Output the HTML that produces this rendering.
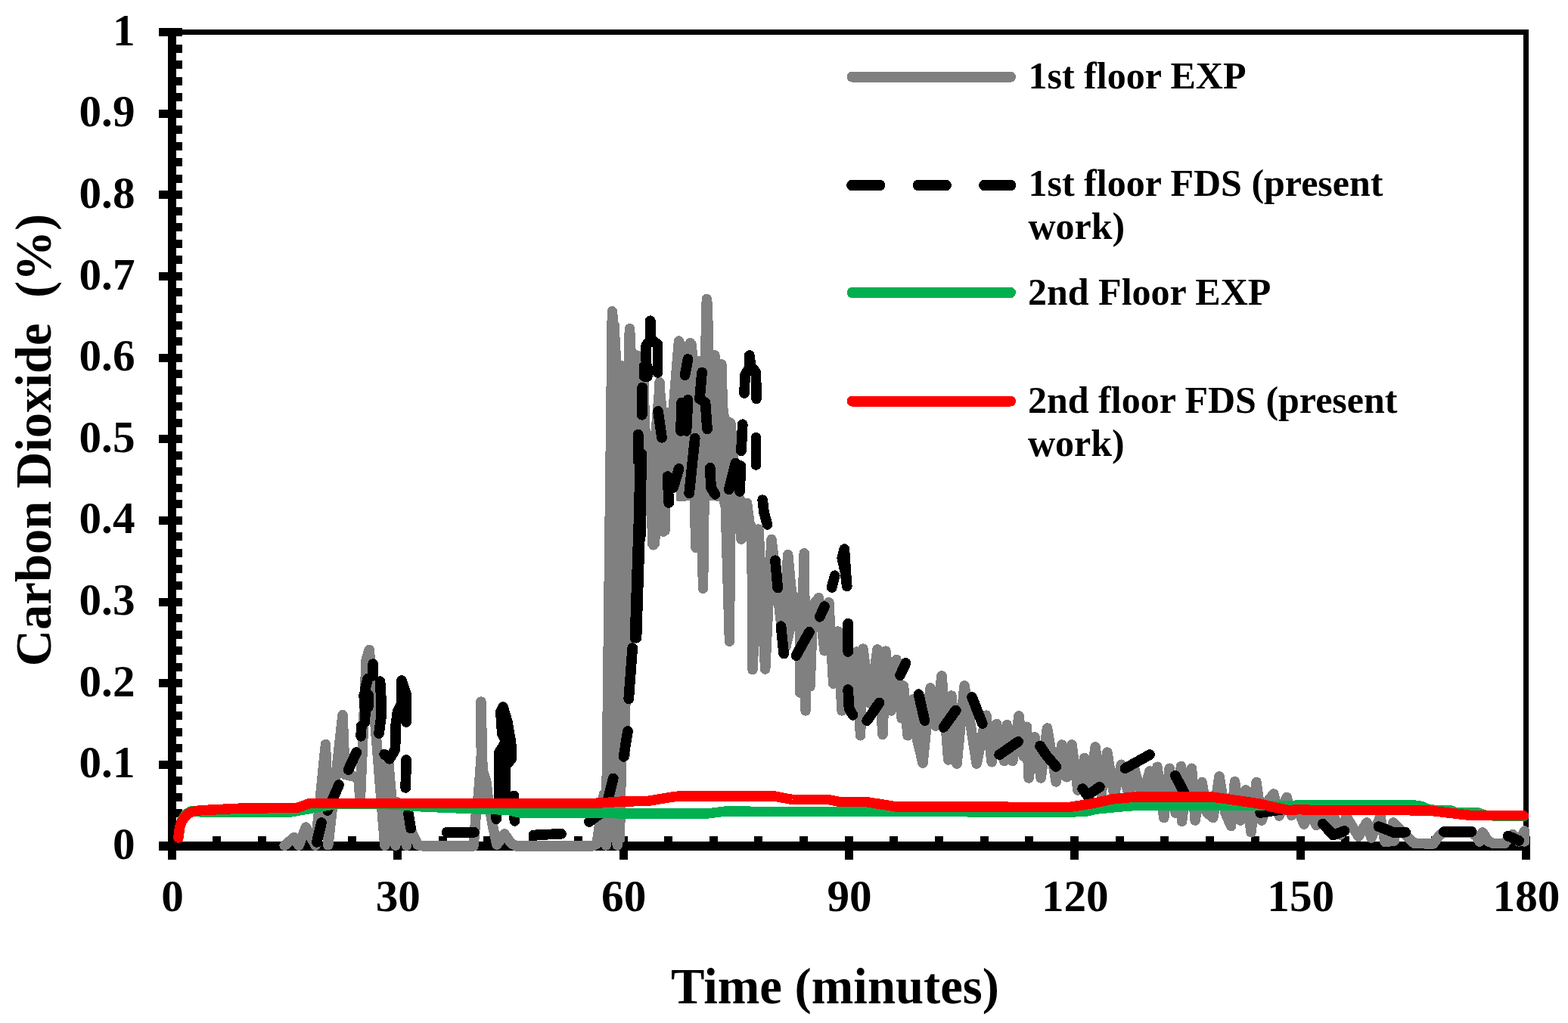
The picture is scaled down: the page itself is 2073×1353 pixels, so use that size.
<!DOCTYPE html>
<html lang="en">
<head>
<meta charset="utf-8">
<title>Carbon Dioxide vs Time</title>
<style>
html,body{margin:0;padding:0;background:#fff;}
body{width:2073px;height:1353px;overflow:hidden;}
svg{display:block;}
text{font-family:"Liberation Serif","DejaVu Serif",serif;font-weight:bold;fill:#000;}
.tick{font-size:59.2px;}
.title{font-size:66.7px;}
.leg{font-size:50px;}
.ax{fill:#000;shape-rendering:crispEdges;}
.ln{fill:none;stroke-linejoin:round;stroke-linecap:round;shape-rendering:crispEdges;}
</style>
</head>
<body>
<svg width="2073" height="1353" viewBox="0 0 2073 1353" role="img" aria-label="Carbon dioxide concentration versus time">
<rect x="0" y="0" width="2073" height="1353" fill="#fff"/>
<g class="ax">
<rect x="222" y="39" width="1799" height="7"/>
<rect x="2014" y="39" width="7" height="1086"/>
<rect x="222" y="37" width="11" height="1100"/>
<rect x="210" y="1113" width="1811" height="12"/>
<rect x="210" y="1114" width="31" height="11"/>
<rect x="232" y="1092" width="9" height="11"/>
<rect x="232" y="1070" width="9" height="11"/>
<rect x="232" y="1049" width="9" height="11"/>
<rect x="232" y="1027" width="9" height="11"/>
<rect x="210" y="1006" width="31" height="11"/>
<rect x="232" y="984" width="9" height="11"/>
<rect x="232" y="963" width="9" height="11"/>
<rect x="232" y="941" width="9" height="11"/>
<rect x="232" y="920" width="9" height="11"/>
<rect x="210" y="898" width="31" height="11"/>
<rect x="232" y="877" width="9" height="11"/>
<rect x="232" y="855" width="9" height="11"/>
<rect x="232" y="834" width="9" height="11"/>
<rect x="232" y="812" width="9" height="11"/>
<rect x="210" y="791" width="31" height="11"/>
<rect x="232" y="769" width="9" height="11"/>
<rect x="232" y="747" width="9" height="11"/>
<rect x="232" y="726" width="9" height="11"/>
<rect x="232" y="704" width="9" height="11"/>
<rect x="210" y="683" width="31" height="11"/>
<rect x="232" y="661" width="9" height="11"/>
<rect x="232" y="640" width="9" height="11"/>
<rect x="232" y="618" width="9" height="11"/>
<rect x="232" y="597" width="9" height="11"/>
<rect x="210" y="575" width="31" height="11"/>
<rect x="232" y="554" width="9" height="11"/>
<rect x="232" y="532" width="9" height="11"/>
<rect x="232" y="511" width="9" height="11"/>
<rect x="232" y="489" width="9" height="11"/>
<rect x="210" y="468" width="31" height="11"/>
<rect x="232" y="446" width="9" height="11"/>
<rect x="232" y="425" width="9" height="11"/>
<rect x="232" y="403" width="9" height="11"/>
<rect x="232" y="381" width="9" height="11"/>
<rect x="210" y="360" width="31" height="11"/>
<rect x="232" y="338" width="9" height="11"/>
<rect x="232" y="317" width="9" height="11"/>
<rect x="232" y="295" width="9" height="11"/>
<rect x="232" y="274" width="9" height="11"/>
<rect x="210" y="252" width="31" height="11"/>
<rect x="232" y="231" width="9" height="11"/>
<rect x="232" y="209" width="9" height="11"/>
<rect x="232" y="188" width="9" height="11"/>
<rect x="232" y="166" width="9" height="11"/>
<rect x="210" y="145" width="31" height="11"/>
<rect x="232" y="123" width="9" height="11"/>
<rect x="232" y="102" width="9" height="11"/>
<rect x="232" y="80" width="9" height="11"/>
<rect x="232" y="59" width="9" height="11"/>
<rect x="210" y="37" width="31" height="11"/>
<rect x="222" y="1106" width="11" height="31"/>
<rect x="281" y="1106" width="11" height="8"/>
<rect x="341" y="1106" width="11" height="8"/>
<rect x="401" y="1106" width="11" height="8"/>
<rect x="460" y="1106" width="11" height="8"/>
<rect x="520" y="1106" width="11" height="31"/>
<rect x="580" y="1106" width="11" height="8"/>
<rect x="639" y="1106" width="11" height="8"/>
<rect x="699" y="1106" width="11" height="8"/>
<rect x="759" y="1106" width="11" height="8"/>
<rect x="819" y="1106" width="11" height="31"/>
<rect x="878" y="1106" width="11" height="8"/>
<rect x="938" y="1106" width="11" height="8"/>
<rect x="997" y="1106" width="11" height="8"/>
<rect x="1057" y="1106" width="11" height="8"/>
<rect x="1117" y="1106" width="11" height="31"/>
<rect x="1176" y="1106" width="11" height="8"/>
<rect x="1236" y="1106" width="11" height="8"/>
<rect x="1296" y="1106" width="11" height="8"/>
<rect x="1355" y="1106" width="11" height="8"/>
<rect x="1415" y="1106" width="11" height="31"/>
<rect x="1475" y="1106" width="11" height="8"/>
<rect x="1534" y="1106" width="11" height="8"/>
<rect x="1594" y="1106" width="11" height="8"/>
<rect x="1654" y="1106" width="11" height="8"/>
<rect x="1714" y="1106" width="11" height="31"/>
<rect x="1773" y="1106" width="11" height="8"/>
<rect x="1833" y="1106" width="11" height="8"/>
<rect x="1892" y="1106" width="11" height="8"/>
<rect x="1952" y="1106" width="11" height="8"/>
<rect x="2012" y="1106" width="11" height="31"/>
</g>
<g class="ln" stroke-width="13.5">
<polygon fill="#808080" stroke="#808080" stroke-width="3" points="803.5,708 803.5,428 817,428 820,482 826,482 827,440 838,440 839.5,470 846,470 846,505 856,505 858.5,582 861,582 867,510 877,510 880,540 890,540 892.5,452 903.8,452 905.5,457 907.5,452 918.8,452 921,472 927.5,472 928.8,400 940.5,400 942,467 947.5,467 949,477 958.8,480 958.8,522 962.5,552 968.8,555 968.8,607 975,640 987,668 997.5,694 1000,715 990,715 982,714 970,700 955,675 952,662 940,660 914,660 907,661 895,661 895,640 885,640 884,705 872,705 870,722 858,722 856,675 852.5,637 842.5,750 836,850 828,942 826,1042 824.5,1112 800,1112 800,708"/>
<polyline stroke="#808080" points="376.2,1118.2 388.8,1107.5 395,1118.2 404.5,1094 417,1118.2 430.5,984.5 433.8,1117.8 453,945.5 456.2,1024.5 473.8,1028.2 476.2,1060.8 484.2,872.5 488.2,859.5 508.8,1118.2 513.8,1009.5 523,1118.2 524.5,1060.8 537.5,1118.2 540.5,1092 552.5,1117.5 560,1119 612,1119 626,1119 628,1095 629.2,1077.5 632.4,1052.5 634.2,1028.8 636.3,1000 636,928 637.8,1010 638.2,1018.8 643.2,1035 645.1,1055 651.4,1092.5 657,1117 666.9,1103 675.5,1115 682.5,1119 782.5,1119 789,1116 798.5,1050 801.2,1118 808.4,500 809.4,411.8 812,440 813,700 814.5,520 816.2,1118 822.5,484 826,1000 832.5,434.8 836.5,840 842,470 845,700 850,520 853,660 856,600 863.8,720.8 872,505.5 877,703.2 897.5,451 905,600 912.5,453.8 920,724.5 925,500 929.5,778.2 934.5,395.5 940,650 945,469.8 950,650 953.8,481.8 964.5,848.2 966,560 971,625 980,713.2 987.5,665.5 994,715 995,885.8 1003,700 1011.7,885 1020,713.3 1035,845 1041.7,733.7 1049,811 1039,855 1052,790 1058,800 1057.5,916 1063.3,731.7 1065,940 1068,800 1071,908 1075,800 1082.5,790.8 1090,860.8 1095.8,796.7 1101.7,904.2 1108,835 1113,940 1120,850 1127,930 1133,862 1137.5,972.8 1141,858 1150,930 1160,858.8 1167,971.5 1171,861 1178,940 1185,872.5 1192,950 1194.5,907 1200,972.8 1207,925 1213,980 1220,1009 1230,910 1237,960 1245,893.8 1253.8,1005 1258,920 1265,1010.2 1275,907 1291.2,1010.2 1303.8,946.2 1311.2,1007.8 1317.5,957.5 1327.5,1006.5 1331.2,958.8 1338.8,1006.5 1347,946.8 1353,1000 1357.5,961.2 1360,1029 1368,975 1376.2,1029 1384.5,963 1396.2,1034 1403.8,985 1410,1027.8 1417,985 1425,1045 1433.8,1002.5 1441,1050 1448,988 1456,1050 1463.8,995 1473,1052 1482.5,1011.2 1492,1050 1500,1018 1510,1055 1520,1020 1526,1060 1530,1014.2 1538.8,1081.5 1546.2,1016.2 1554,1075 1561.5,1013.5 1562.5,1086.5 1570,1030 1575.5,1016.2 1580,1085 1589,1034.5 1596,1075 1603.8,1081.5 1612,1027 1620,1075 1627.5,1092.5 1632.5,1033.8 1640,1085 1647,1045 1654,1100.8 1661,1034.5 1668,1085 1676,1060 1683.8,1050 1691.2,1079 1701.2,1054.5 1707.5,1078.5 1714,1065 1724,1090.2 1732,1070 1740,1091.5 1748,1075 1756,1098 1763,1078 1772,1104 1780,1080 1796,1106.5 1806.9,1087.8 1813,1108 1825,1080 1831,1113.5 1843.5,1112 1841.9,1087.8 1870,1115.5 1895,1116 1902,1106 1908,1101 1945,1101 1952,1106 1956,1113 1960,1100.8 1968,1113 1975,1115.7 1989,1115.7 1995,1108 2000,1103.6 2008,1113 2015.6,1099 2015.6,1113"/>
<g stroke="#000" stroke-width="13.75">
<polyline points="418.8,1113.8 425,1088.1"/>
<polyline points="433.1,1071.9 448.1,1038.1"/>
<polyline points="460.6,1018.1 471.2,995"/>
<polyline points="477.2,973.8 477.8,960"/>
<polyline points="482.5,955 482.8,940"/>
<polyline points="481.2,918.8 481.9,935"/>
<polyline points="486.9,918.8 486.9,935"/>
<polyline points="486.2,897.5 482.5,912.5"/>
<polyline points="493.1,878.1 493.1,893.8"/>
<polyline points="502.5,901.2 503.8,922.5 504.4,945 501,970"/>
<polyline points="531,900 531,930 525.6,941.2 523.1,960 522.5,991.2 515,1003.8 508.1,997.5"/>
<polyline points="531,900 536.9,917.5 537.1,955"/>
<polyline points="537.1,1005 536.2,1041.9"/>
<polyline points="540,1076.2 543.1,1095.6"/>
<polyline points="590.5,1100.8 627,1100.8"/>
<polyline points="705.5,1104.5 742,1102.8"/>
<polyline points="660,1055 659.4,1025 660,995 668.8,981.2 663.8,970 661.9,941.2 665,935 670.6,953.8 675.6,982.5 676,1003.8 668.8,1012.5 668.1,1025 667.5,1055"/>
<polyline points="679.4,1052.5 679.4,1055"/>
<polyline points="667.5,987.5 667.8,1012.5"/>
<polyline points="656.2,1083.2 656.2,1077"/>
<polyline points="680.5,1085.8 680,1079.5"/>
<polyline points="778.8,1087 792.5,1077"/>
<polyline points="810.8,1029.5 803.8,1057"/>
<polyline points="830,967 824.5,1000.8"/>
<polyline points="836.2,857 831.2,924.5"/>
<polyline points="839.5,843.2 841.2,792"/>
<polyline points="1032.5,828.2 1036.2,864.5"/>
<polyline points="1052.5,867 1070,835.8"/>
<polyline points="1083.8,815.8 1090,802"/>
<polyline points="1121.2,824.5 1121.2,862"/>
<polyline points="1121.2,912 1122.5,937 1127.5,945.8"/>
<polyline points="1146.2,953.2 1162.5,929.5"/>
<polyline points="1190,893.2 1197.5,877"/>
<polyline points="1214.5,918.2 1222.5,953.2"/>
<polyline points="1247.5,962 1262.5,940.8"/>
<polyline points="839.5,843.8 842.5,750 845,675 846.2,600"/>
<polyline points="841.5,843.8 844.5,750 847,675 848.2,600"/>
<polyline points="1025,741.2 1028.2,777.5"/>
<polyline points="859.8,424.2 859.8,447.5"/>
<polyline points="854.3,456.8 854.3,477.5"/>
<polyline points="851.9,483.8 851.9,498"/>
<polyline points="855.8,485 855.8,498"/>
<polyline points="857.5,452.5 854.3,456.8"/>
<polyline points="869.5,455.5 869.5,493"/>
<polyline points="862.5,450 869.5,455.5"/>
<polyline points="849.2,512.5 848.8,548.8"/>
<polyline points="843.8,574.5 843.8,610"/>
<polyline points="847.5,600 847,708.2"/>
<polyline points="870,543.8 875,578.8"/>
<polyline points="909.5,475 905.5,496.2"/>
<polyline points="928,492.5 925,527.5 932.5,532.5 935,567.5"/>
<polyline points="909.5,528.8 907.5,570"/>
<polyline points="901.2,532.5 900,570"/>
<polyline points="918.8,579.5 915,615 911.2,652.5"/>
<polyline points="882.5,630 884.2,665"/>
<polyline points="897.5,620 890,645"/>
<polyline points="938.8,618.8 940,645 945.5,653.8"/>
<polyline points="972.5,612.5 963.8,647.5"/>
<polyline points="979.5,616.2 978,650"/>
<polyline points="981.8,561.2 980,596.2"/>
<polyline points="999.5,578.8 999.5,615"/>
<polyline points="990.9,470 990.6,486.2 985,496.2 984.1,520"/>
<polyline points="990.9,470 992.5,483.8 999.4,492.5 1000,527.5"/>
<polyline points="1008.2,661.2 1010,677.5 1014.5,693.8"/>
<polyline points="1116.3,726.2 1113.3,738.3 1117.5,756.7 1119.7,775.3"/>
<polyline points="1116.3,726.2 1118.3,756.7 1119.7,775.3"/>
<polyline points="1103.7,761.3 1099.7,777"/>
<polyline points="1247.5,962 1263.8,939.5"/>
<polyline points="1285,922 1298.8,957"/>
<polyline points="1321.2,998.2 1346.2,980.8"/>
<polyline points="1375,986.5 1383.8,999.5 1396.2,1014"/>
<polyline points="1431.2,1043.2 1437.5,1052 1453.8,1040.8"/>
<polyline points="1487.5,1016.2 1520,998.2"/>
<polyline points="1553.8,1025.8 1567.5,1052"/>
<polyline points="1666.2,1075 1702.5,1069.5"/>
<polyline points="1748.8,1089.5 1762.5,1104.5 1777.5,1099"/>
<polyline points="1822.5,1093.1 1843.1,1101.2 1858.1,1100.6"/>
<polyline points="1908.8,1100 1945.6,1100"/>
<polyline points="1993.8,1105.6 2008.1,1111.9"/>
</g>
<polyline stroke="#00B050" points="236,1107 238,1093 240.5,1085 244,1079.5 248,1075.5 252.5,1073 258,1072.5 266,1074 280,1074.6 380,1074.7 445,1063.2 510,1063.5 560,1067 645,1070.5 670,1071 690,1075.5 935,1076 957.5,1073.2 1415,1074 1435,1073.3 1450,1070 1475,1067.5 1500,1065.5 1555,1065.5 1870,1065 1880,1066.5 1890,1071.1 1917.5,1071.8 1926,1074.9 1954,1074.9 1965,1078.6 2014.2,1079.6"/>
<polyline stroke="#FF0000" points="235.8,1108 237.6,1093.5 240.5,1086 244.3,1080.5 248.5,1076.5 253.2,1074 259,1072.5 265,1071.8 320,1069 393,1068.5 410,1062.3 785,1062.5 820,1060.2 857,1059.3 892,1053.6 900,1052.8 1022.5,1052.8 1047.5,1057.5 1095,1057.5 1110,1060.5 1145,1060.5 1185,1067 1415,1067.4 1445,1062.5 1470,1057 1500,1054 1602.5,1054 1633,1058.3 1667,1063.3 1683,1067.5 1705,1071.7 1717,1070.5 1735,1071.5 1887,1071.8 1945,1078.5 2014.2,1078.6"/>
</g>
<g class="tick" text-anchor="end">
<text x="178.5" y="1136.0">0</text>
<text x="178.5" y="1028.3">0.1</text>
<text x="178.5" y="920.7">0.2</text>
<text x="178.5" y="813.0">0.3</text>
<text x="178.5" y="705.4">0.4</text>
<text x="178.5" y="597.8">0.5</text>
<text x="178.5" y="490.1">0.6</text>
<text x="178.5" y="382.5">0.7</text>
<text x="178.5" y="274.8">0.8</text>
<text x="178.5" y="167.1">0.9</text>
<text x="178.5" y="59.5">1</text>
</g>
<g class="tick" text-anchor="middle">
<text x="228.0" y="1205.2">0</text>
<text x="526.3" y="1205.2">30</text>
<text x="824.7" y="1205.2">60</text>
<text x="1123.0" y="1205.2">90</text>
<text x="1421.3" y="1205.2">120</text>
<text x="1719.7" y="1205.2">150</text>
<text x="2018.0" y="1205.2">180</text>
</g>
<text class="title" text-anchor="middle" x="1104" y="1326.5">Time (minutes)</text>
<text class="title" text-anchor="middle" xml:space="preserve" transform="translate(67 582) rotate(-90)">Carbon Dioxide  (%)</text>
<g class="ln" stroke-width="14">
<line x1="1126.5" y1="101.7" x2="1336" y2="101.7" stroke="#808080"/>
<line x1="1126.5" y1="245" x2="1336" y2="245" stroke="#000" stroke-width="14.8" stroke-dasharray="36.5 51"/>
<line x1="1126.5" y1="387" x2="1336" y2="387" stroke="#00B050"/>
<line x1="1126.5" y1="530.6" x2="1336" y2="530.6" stroke="#FF0000"/>
</g>
<g class="leg">
<text x="1359.5" y="116.8">1st floor EXP</text>
<text x="1359.5" y="258.8">1st floor FDS (present</text>
<text x="1359.5" y="315.5">work)</text>
<text x="1359" y="403.3">2nd Floor EXP</text>
<text x="1359" y="546.3">2nd floor FDS (present</text>
<text x="1359" y="603">work)</text>
</g>
</svg>
</body>
</html>
